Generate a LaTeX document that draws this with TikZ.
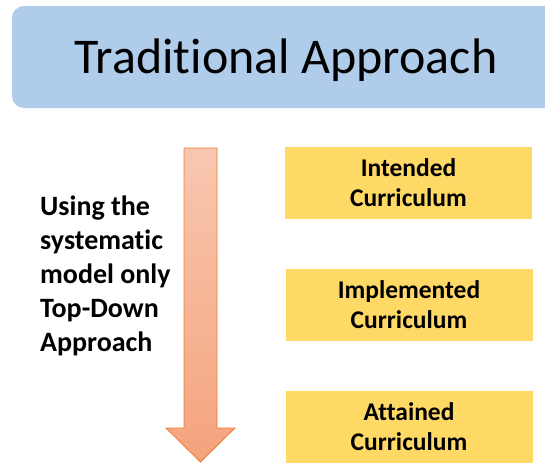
\documentclass[tikz,border=0pt]{standalone}
\usepackage{fontspec}
\setmainfont{Carlito}[Ligatures={NoCommon,NoContextual,NoRequired},Contextuals=NoAlternate]
\definecolor{titleblue}{RGB}{175,204,234}
\definecolor{curgold}{RGB}{255,217,102}
\definecolor{arrowtop}{RGB}{248,199,176}
\definecolor{arrowbot}{RGB}{244,163,124}
\definecolor{arrowline}{RGB}{237,125,49}
\begin{document}
\begin{tikzpicture}[x=1pt,y=-1pt,
    curbox/.style={fill=curgold,minimum width=247pt,minimum height=72pt,inner sep=0pt,
      align=center,font=\fontsize{25.5}{30}\selectfont\bfseries}]
    \useasboundingbox (0,0) rectangle (545,463);
    \clip (0,0) rectangle (545,463);
    \fill[titleblue,rounded corners=12pt] (12,6) rectangle (570,108);
    \node[anchor=base,font=\fontsize{50}{60}\selectfont] (title) at (286,73.5) {Traditional Approach};
    \shade[top color=arrowtop,bottom color=arrowbot,draw=arrowline,line width=0.8pt]
      (184,148) -- (217,148) -- (217,428) -- (235,428) -- (200.5,462) -- (166,428) -- (184,428) -- cycle;
    \node[anchor=north west,inner sep=0pt,align=left,font=\fontsize{28}{34}\selectfont\bfseries]
      (model) at (40,196) {Using the\\systematic\\model only\\Top-Down\\Approach};
    \node[curbox] (intended) at (408.5,183) {Intended\\Curriculum};
    \node[curbox] (implemented) at (409,304.5) {Implemented\\Curriculum};
    \node[curbox] (attained) at (409,427) {Attained\\Curriculum};
\end{tikzpicture}
\end{document}
